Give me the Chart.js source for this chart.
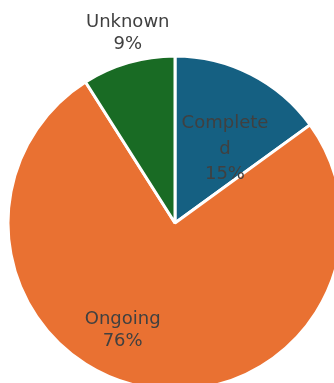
<!DOCTYPE html>
<html>
<head>
<meta charset="utf-8">
<style>
  html, body { margin: 0; padding: 0; background: #ffffff; }
  #wrap { position: relative; width: 334px; height: 383px; overflow: hidden; }
  canvas { display: block; }
</style>
<script src="https://cdn.jsdelivr.net/npm/chart.js@4/dist/chart.umd.min.js"></script>
</head>
<body>
<div id="wrap"><canvas id="chart" width="334" height="383"></canvas></div>
<script>
// Project status breakdown
const categories = ['Completed', 'Ongoing', 'Unknown'];
const shares = [15, 76, 9];
// Label text as shown on the chart (the first one wraps inside its slice)
const labelLines = [['Complete', 'd', '15%'], ['Ongoing', '76%'], ['Unknown', '9%']];

const sliceColors = ['#156082', '#E97132', '#196B24'];

// Where each label block sits: angle in degrees clockwise from 12 o'clock,
// distance as a fraction of the outer radius, and line spacing in px.
const labelPlacement = [
  { angle: 34, dist: 0.535, lineHeight: 25.5 },
  { angle: 206, dist: 0.715, lineHeight: 21.5 },
  { angle: -14, dist: 1.17, lineHeight: 22 }
];

const sliceLabels = {
  id: 'sliceLabels',
  afterDatasetsDraw(chart) {
    const ctx = chart.ctx;
    const meta = chart.getDatasetMeta(0);
    ctx.save();
    ctx.font = '18px "DejaVu Sans"';
    ctx.fillStyle = '#404040';
    ctx.textAlign = 'center';
    ctx.textBaseline = 'middle';
    meta.data.forEach((arc, i) => {
      const p = labelPlacement[i];
      const { x, y, outerRadius } = arc.getProps(['x', 'y', 'outerRadius'], true);
      const a = p.angle * Math.PI / 180;
      const cx = x + Math.sin(a) * outerRadius * p.dist;
      const cy = y - Math.cos(a) * outerRadius * p.dist;
      const lines = labelLines[i];
      const top = cy - (lines.length - 1) * p.lineHeight / 2;
      lines.forEach((t, k) => ctx.fillText(t, cx, top + k * p.lineHeight));
    });
    ctx.restore();
  }
};

new Chart(document.getElementById('chart'), {
  type: 'pie',
  data: {
    labels: categories,
    datasets: [{
      data: shares,
      backgroundColor: sliceColors,
      borderColor: '#ffffff',
      borderWidth: 3,
      radius: 167,
      clip: false
    }]
  },
  options: {
    responsive: false,
    animation: false,
    layout: { padding: { left: 16, top: 63, right: 0, bottom: 0 } },
    plugins: {
      legend: { display: false },
      tooltip: { enabled: false }
    }
  },
  plugins: [sliceLabels]
});
</script>
</body>
</html>
